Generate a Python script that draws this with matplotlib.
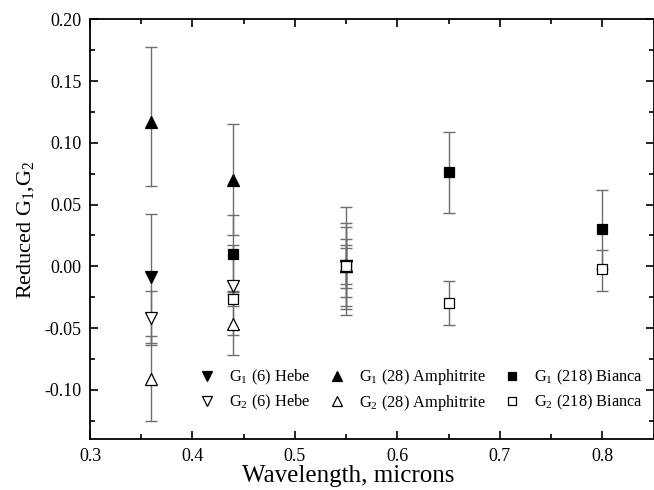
import matplotlib
matplotlib.use("Agg")
import matplotlib.pyplot as plt
from matplotlib.ticker import MultipleLocator, FormatStrFormatter

plt.rcParams['font.family'] = ['Liberation Serif', 'DejaVu Serif']
plt.rcParams['mathtext.fontset'] = 'custom'
plt.rcParams['mathtext.rm'] = 'Liberation Serif'
plt.rcParams['mathtext.it'] = 'Liberation Serif:italic'
plt.rcParams['axes.unicode_minus'] = False

# ---- data ----
hebe_g1_x = [0.36, 0.55]
hebe_g1_y = [-0.0087, 0.0]
hebe_g1_lo = [0.053, 0.039]
hebe_g1_hi = [0.051, 0.048]

hebe_g2_x = [0.36, 0.44, 0.55]
hebe_g2_y = [-0.0418, -0.0157, 0.0]
hebe_g2_lo = [0.0215, 0.040, 0.025]
hebe_g2_hi = [0.0215, 0.033, 0.022]

amph_g1_x = [0.36, 0.44, 0.55]
amph_g1_y = [0.1167, 0.070, 0.0]
amph_g1_lo = [0.052, 0.045, 0.0345]
amph_g1_hi = [0.061, 0.045, 0.035]

amph_g2_x = [0.36, 0.44, 0.55]
amph_g2_y = [-0.0909, -0.0464, 0.0]
amph_g2_lo = [0.0345, 0.0256, 0.0175]
amph_g2_hi = [0.0345, 0.0256, 0.0175]

bian_g1_x = [0.44, 0.55, 0.65, 0.80]
bian_g1_y = [0.0099, 0.0, 0.0765, 0.0302]
bian_g1_lo = [0.032, 0.032, 0.033, 0.032]
bian_g1_hi = [0.032, 0.0315, 0.032, 0.032]

bian_g2_x = [0.44, 0.55, 0.65, 0.80]
bian_g2_y = [-0.0262, 0.0, -0.0296, -0.0020]
bian_g2_lo = [0.006, 0.014, 0.0175, 0.0183]
bian_g2_hi = [0.006, 0.0148, 0.0175, 0.0149]

labels = [r'G$_1$ (6) Hebe', r'G$_2$ (6) Hebe',
          r'G$_1$ (28) Amphitrite', r'G$_2$ (28) Amphitrite',
          r'G$_1$ (218) Bianca', r'G$_2$ (218) Bianca']

fig = plt.figure(figsize=(6.54, 4.90), dpi=100)
ax = fig.add_axes([90/654, 1-439.3/490, 563.5/654, 420/490])

ecol = '#6e6e6e'

series = [
    (hebe_g1_x, hebe_g1_y, hebe_g1_lo, hebe_g1_hi, 'v', 'black', 9),
    (hebe_g2_x, hebe_g2_y, hebe_g2_lo, hebe_g2_hi, 'v', 'white', 9),
    (amph_g1_x, amph_g1_y, amph_g1_lo, amph_g1_hi, '^', 'black', 9),
    (amph_g2_x, amph_g2_y, amph_g2_lo, amph_g2_hi, '^', 'white', 9),
    (bian_g1_x, bian_g1_y, bian_g1_lo, bian_g1_hi, 's', 'black', 6.5),
    (bian_g2_x, bian_g2_y, bian_g2_lo, bian_g2_hi, 's', 'white', 6.5),
]

for x, y, lo, hi, m, fc, ms in series:
    ax.errorbar(x, y, yerr=[lo, hi], fmt='none', ecolor=ecol, elinewidth=1.0,
                capsize=4, capthick=1.0, zorder=2)
handles = []
for (x, y, lo, hi, m, fc, ms), lab in zip(series, labels):
    h, = ax.plot(x, y, linestyle='none', marker=m, markersize=ms,
                 markerfacecolor=fc, markeredgecolor='black',
                 markeredgewidth=0.9, zorder=3, label=lab)
    handles.append(h)

ax.set_xlim(0.3, 0.85)
ax.set_ylim(-0.14, 0.20)
ax.xaxis.set_major_locator(MultipleLocator(0.1))
ax.xaxis.set_minor_locator(MultipleLocator(0.05))
ax.yaxis.set_major_locator(MultipleLocator(0.05))
ax.yaxis.set_minor_locator(MultipleLocator(0.025))
ax.xaxis.set_major_formatter(FormatStrFormatter('%.1f'))
ax.yaxis.set_major_formatter(FormatStrFormatter('%.2f'))
ax.tick_params(which='both', direction='in', top=True, right=True, width=1.2,
               labelsize=13, pad=6)
ax.tick_params(which='major', length=6)
ax.tick_params(which='minor', length=3.5)
for s in ax.spines.values():
    s.set_linewidth(1.3)

ax.set_xlabel('Wavelength, microns', fontsize=18)
ax.xaxis.set_label_coords(0.458, -0.062)
ax.set_ylabel(r'Reduced G$_1$,G$_2$', fontsize=16, labelpad=6)

leg = ax.legend(handles=handles, ncol=3, frameon=False, loc='center',
                bbox_to_anchor=(0.587, 0.117), fontsize=11.8,
                handlelength=1.0, handletextpad=0.85, columnspacing=1.1,
                labelspacing=0.35, markerscale=0.8)

fig.savefig('out.png', dpi=100)
